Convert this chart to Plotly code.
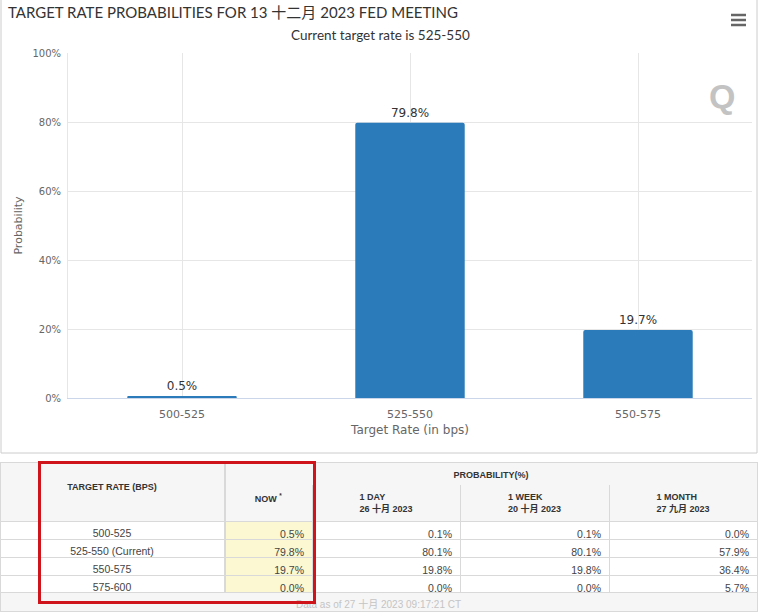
import plotly.graph_objects as go

# ---------------- data ----------------
title_text = "TARGET RATE PROBABILITIES FOR 13 十二月 2023 FED MEETING"
subtitle_text = "Current target rate is 525-550"
bar_categories = ["500-525", "525-550", "550-575"]
bar_values = [0.5, 79.8, 19.7]
y_ticks = [0, 20, 40, 60, 80, 100]
y_tick_labels = [f"{v}%" for v in y_ticks]
x_title = "Target Rate (in bps)"
y_title = "Probability"

table_rates = ["500-525", "525-550 (Current)", "550-575", "575-600"]
prob_now = [0.5, 79.8, 19.7, 0.0]
prob_1day = [0.1, 80.1, 19.8, 0.0]
prob_1week = [0.1, 80.1, 19.8, 0.0]
prob_1month = [0.0, 57.9, 36.4, 5.7]
rate_header = "TARGET RATE (BPS)"
group_header = "PROBABILITY(%)"
col_headers = ["NOW <sup>*</sup>", "1 DAY<br>26 十月 2023", "1 WEEK<br>20 十月 2023", "1 MONTH<br>27 九月 2023"]
footer_text = "Data as of 27 十月 2023 09:17:21 CT"

# ---------------- layout helpers ----------------
W, H = 760, 616


def fx(x):
    return x / W


def fy(y):
    return 1 - y / H


TFONT = "Liberation Sans, Arial, Noto Sans CJK SC, sans-serif"
AFONT = "DejaVu Sans, Verdana, sans-serif"
NFONT = "Lato, Noto Sans CJK SC, sans-serif"
LINE = "#d9d9d9"
HEAD_BG = "#f6f6f6"
YELLOW = "#fbf8d2"


def pct(vals):
    return [f"{v:.1f}%" for v in vals]


fig = go.Figure()

fig.add_trace(go.Bar(
    x=bar_categories, y=bar_values, width=0.48,
    marker=dict(color="#2b7bba", cornerradius=2, line=dict(width=0)),
    texttemplate="%{y:.1f}%", textposition="outside",
    textfont=dict(family=AFONT, size=12, color="#333333"),
    cliponaxis=False, hoverinfo="skip", showlegend=False,
))

# rate column (header spans two rows)
fig.add_trace(go.Table(
    domain=dict(x=[0, fx(225)], y=[fy(600), fy(462)]),
    header=dict(values=["\u00a0<br><b>" + rate_header + "</b>"], height=59, fill_color=HEAD_BG,
                line_color=LINE, align="center", font=dict(family=TFONT, size=9, color="#333")),
    cells=dict(values=[table_rates], height=18, fill_color="white", line_color=LINE,
               align="center", font=dict(family=TFONT, size=10.5, color="#444")),
))

# probability columns
fig.add_trace(go.Table(
    domain=dict(x=[fx(225), fx(757)], y=[fy(600), fy(484)]),
    columnwidth=[87, 148, 149, 148],
    header=dict(values=["<b>" + h + "</b>" for h in col_headers], height=37, fill_color=HEAD_BG,
                line_color=LINE, align="center", font=dict(family=TFONT, size=9, color="#333")),
    cells=dict(values=[pct(prob_now), pct(prob_1day), pct(prob_1week), pct(prob_1month)],
               height=18, line_color=LINE, align="right",
               fill_color=[[YELLOW] * len(prob_now), ["white"] * len(prob_now),
                           ["white"] * len(prob_now), ["white"] * len(prob_now)],
               font=dict(family=TFONT, size=10.5, color="#444")),
))

# group header
fig.add_trace(go.Table(
    domain=dict(x=[fx(225), fx(757)], y=[fy(485), fy(462)]),
    header=dict(values=["<b>" + group_header + "</b>"], height=23, fill_color=HEAD_BG,
                line_color=LINE, align="center", font=dict(family=TFONT, size=9, color="#333")),
    cells=dict(values=[[]], height=18, line_color=LINE),
))

# footer
fig.add_trace(go.Table(
    domain=dict(x=[0, fx(757)], y=[fy(612), fy(592)]),
    header=dict(values=[footer_text], height=19, fill_color=HEAD_BG, line_color=LINE,
                align="center", font=dict(family=TFONT, size=10, color="#c4c4c4")),
    cells=dict(values=[[]], height=18, line_color=LINE),
))

fig.update_layout(
    width=W, height=H, autosize=False,
    margin=dict(l=0, r=0, t=0, b=0, autoexpand=False),
    paper_bgcolor="white", plot_bgcolor="white",
    title=dict(text=title_text, x=fx(8), xanchor="left", y=fy(13), yanchor="middle",
               xref="container", yref="container",
               font=dict(family=NFONT, size=15, color="#333333")),
    xaxis=dict(domain=[fx(68), fx(752)], type="category", range=[-0.5, 2.5], automargin=False,
               showgrid=True, gridcolor="#e6e6e6", showline=True, linecolor="#ccd6eb",
               ticks="", ticklabelstandoff=6, tickfont=dict(family=AFONT, size=11, color="#666"),
               title=dict(text=x_title, font=dict(family=AFONT, size=12, color="#666"), standoff=5),
               fixedrange=True),
    yaxis=dict(domain=[fy(398), fy(53)], range=[0, 100], tickvals=y_ticks, ticktext=y_tick_labels,
               automargin=False,
               showgrid=True, gridcolor="#e6e6e6", zeroline=False, showline=True, linecolor="#e6e6e6",
               ticks="", ticklabelstandoff=4, tickfont=dict(family=AFONT, size=10, color="#666"),
               title=dict(text=y_title, font=dict(family=AFONT, size=11, color="#666"), standoff=7),
               fixedrange=True),
    shapes=[
        dict(type="rect", xref="paper", yref="paper", x0=fx(1), x1=fx(757), y0=fy(453), y1=fy(-2),
             line=dict(color="#cccccc", width=1), fillcolor="rgba(0,0,0,0)", layer="below"),
        dict(type="line", xref="paper", yref="paper", x0=fx(731), x1=fx(746), y0=fy(15), y1=fy(15),
             line=dict(color="#666", width=2.5)),
        dict(type="line", xref="paper", yref="paper", x0=fx(731), x1=fx(746), y0=fy(20), y1=fy(20),
             line=dict(color="#666", width=2.5)),
        dict(type="line", xref="paper", yref="paper", x0=fx(731), x1=fx(746), y0=fy(25), y1=fy(25),
             line=dict(color="#666", width=2.5)),
    ],
    annotations=[
        dict(text=subtitle_text, xref="paper", yref="paper", x=fx(380), y=fy(35),
             xanchor="center", yanchor="middle", showarrow=False,
             font=dict(family=NFONT, size=13.5, color="#333")),
        dict(text="<b>Q</b>", xref="paper", yref="paper", x=fx(722), y=fy(96),
             xanchor="center", yanchor="middle", showarrow=False,
             font=dict(family=TFONT, size=34, color="#c3c3c3")),
        dict(text=" ", xref="paper", yref="paper", x=fx(176.5), y=fy(532),
             xanchor="center", yanchor="middle", showarrow=False, width=272, height=137,
             bordercolor="#d0141c", borderwidth=3, borderpad=0, bgcolor="rgba(0,0,0,0)"),
    ],
)

fig.write_html("out.html", config={"displayModeBar": False},
               post_script="document.body.style.margin='0px';")
